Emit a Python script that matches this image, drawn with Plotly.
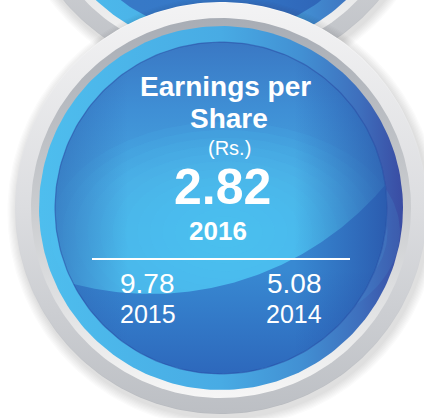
import numpy as np
import plotly.graph_objects as go

# ---------------- data ----------------
title_lines = ["Earnings per", "Share"]
unit_label = "(Rs.)"
current_value = 2.82
current_year = 2016
previous_values = [9.78, 5.08]
previous_years = [2015, 2014]

# ---------------- layout geometry (pixels, y down) ----------------
W, H = 424, 418
CX, CY = 221, 208          # main medallion centre
R_OUT, R_BAND, R_RING, R_DISK = 206, 190, 182, 166
UP_CY = -132               # upper (partially visible) medallion centre y
GLOSS_DX, GLOSS_DY, GLOSS_R = -70, -220, 306

FONT = "Liberation Sans, Arial, Helvetica, sans-serif"

fig = go.Figure()


def circle_pts(cx, cy, r, n=240):
    t = np.linspace(0, 2 * np.pi, n)
    return cx + r * np.cos(t), cy + r * np.sin(t)


def ellipse_pts(cx, cy, rx, ry, n=240):
    t = np.linspace(0, 2 * np.pi, n)
    return cx + rx * np.cos(t), cy + ry * np.sin(t)


def add_poly(x, y, color=None, grad=None):
    kw = dict(x=np.append(x, x[0]), y=np.append(y, y[0]), mode="lines",
              fill="toself", hoverinfo="skip", showlegend=False,
              line=dict(width=0, color="rgba(0,0,0,0)"))
    if color is not None:
        kw["fillcolor"] = color
    if grad is not None:
        kw["fillgradient"] = grad
    fig.add_trace(go.Scatter(**kw))


def vgrad(stops, y0, y1):
    return dict(type="vertical", colorscale=stops, start=y0, stop=y1)


def hgrad(stops, x0, x1):
    return dict(type="horizontal", colorscale=stops, start=x0, stop=x1)


def circle_intersections(c0, r0, c1, r1):
    c0 = np.array(c0, float); c1 = np.array(c1, float)
    d = np.linalg.norm(c1 - c0)
    a = (r0 ** 2 - r1 ** 2 + d ** 2) / (2 * d)
    h = np.sqrt(max(r0 ** 2 - a ** 2, 0))
    p = c0 + a * (c1 - c0) / d
    perp = np.array([-(c1 - c0)[1], (c1 - c0)[0]]) / d
    return p + h * perp, p - h * perp


def arc(center, r, pA, pB, test, n=160):
    center = np.array(center, float)
    aA = np.arctan2(pA[1] - center[1], pA[0] - center[0])
    aB = np.arctan2(pB[1] - center[1], pB[0] - center[0])
    d = (aB - aA) % (2 * np.pi)
    mid = aA + d / 2
    if not test(center + r * np.array([np.cos(mid), np.sin(mid)])):
        d = d - 2 * np.pi
    t = np.linspace(aA, aA + d, n)
    return center[0] + r * np.cos(t), center[1] + r * np.sin(t)


def shadow(cx, cy, r):
    for k in range(1, 9):
        x, y = circle_pts(cx + 2, cy + 4, r + k * 1.2)
        add_poly(x, y, color="rgba(60,60,70,0.02)")


def medallion_frame(cx, cy):
    # outer metallic band
    x, y = circle_pts(cx, cy, R_OUT)
    add_poly(x, y, grad=vgrad([[0, "#fafafa"], [0.5, "#dcdde0"], [1, "#b7babf"]],
                             cy - R_OUT, cy + R_OUT))
    x, y = circle_pts(cx, cy, R_OUT - 0.8)
    add_poly(x, y, grad=vgrad([[0, "#f3f3f4"], [0.5, "#dcdde0"], [1, "#bcbfc4"]],
                             cy - R_OUT, cy + R_OUT))
    # inner bevel band
    x, y = circle_pts(cx, cy, R_BAND)
    add_poly(x, y, grad=vgrad([[0, "#a8adb5"], [0.5, "#cacccf"], [1, "#f6f6f6"]],
                             cy - R_BAND, cy + R_BAND))
    # light-blue ring
    x, y = circle_pts(cx, cy, R_RING)
    add_poly(x, y, grad=hgrad([[0, "#4ebeee"], [0.5, "#48abe4"], [0.72, "#4290d3"],
                               [0.88, "#3e6fbd"], [1, "#3a4ca3"]],
                              cx - R_RING, cx + R_RING))


# ---------- upper medallion (mostly hidden) ----------
shadow(CX, UP_CY, R_OUT)
medallion_frame(CX, UP_CY)
x, y = circle_pts(CX, UP_CY, R_DISK)
add_poly(x, y, grad=hgrad([[0, "#3a7ac6"], [0.5, "#3478c8"], [1, "#2c5aae"]],
                          CX - R_DISK, CX + R_DISK))

# ---------- main medallion ----------
shadow(CX, CY, R_OUT)
medallion_frame(CX, CY)

# disk base
x, y = circle_pts(CX, CY, R_DISK)
add_poly(x, y, grad=vgrad([[0, "#3a78c4"], [0.3, "#3f8fd5"], [0.65, "#46a5e0"], [1, "#4aafe6"]],
                          CY - R_DISK, CY + 60))

# bright glow inside gloss
for k in range(14):
    f = 1 - k / 14
    x, y = ellipse_pts(CX + 4, CY + 24, 175 * f, 110 * f)
    add_poly(x, y, color="rgba(86,198,242,0.11)")

# lower (non-gloss) region
C = np.array([CX, CY], float)
G = C + np.array([GLOSS_DX, GLOSS_DY])
P1, P2 = circle_intersections(C, R_DISK, G, GLOSS_R)
outside_gloss = lambda p: np.linalg.norm(p - G) > GLOSS_R
inside_disk = lambda p: np.linalg.norm(p - C) < R_DISK
ax1, ay1 = arc(C, R_DISK, P1, P2, outside_gloss)
ax2, ay2 = arc(G, GLOSS_R, P2, P1, inside_disk)
add_poly(np.concatenate([ax1, ax2]), np.concatenate([ay1, ay2]),
         grad=vgrad([[0, "#3889d2"], [1, "#2d68bc"]], CY + 62, CY + R_DISK))

# left / right edge darkening
x, y = circle_pts(CX, CY, R_DISK)
add_poly(x, y, grad=hgrad([[0, "rgba(44,92,172,0.5)"], [0.22, "rgba(44,92,172,0)"],
                           [0.72, "rgba(35,70,160,0)"], [1, "rgba(35,62,152,0.6)"]],
                          CX - R_DISK, CX + R_DISK))

# thin rim line
x, y = circle_pts(CX, CY, R_DISK)
fig.add_trace(go.Scatter(x=x, y=y, mode="lines", hoverinfo="skip", showlegend=False,
                         line=dict(width=1.2, color="rgba(40,70,160,0.5)")))

# ---------- text ----------
def txt(s, x, y, size, bold=False):
    fig.add_annotation(x=x, y=y, text=f"<b>{s}</b>" if bold else s, showarrow=False,
                       xanchor="center", yanchor="middle", align="center",
                       font=dict(family=FONT, size=size, color="white"))

txt(title_lines[0], 225.5, 86.2, 28, bold=True)
txt(title_lines[1], 228.5, 118.0, 28, bold=True)
txt(unit_label, 229, 147.5, 20)
txt(f"{current_value:.2f}", 222, 186.5, 50, bold=True)
txt(str(current_year), 218, 231, 26, bold=True)

prev_x = [147.5, 294]
for xv, v, yr in zip(prev_x, previous_values, previous_years):
    txt(f"{v:.2f}", xv, 283, 28)
    txt(str(yr), xv, 314, 25)

fig.add_shape(type="line", x0=92, x1=350, y0=259, y1=259, xref="x", yref="y",
              line=dict(color="white", width=2))

fig.update_layout(
    width=W, height=H, margin=dict(l=0, r=0, t=0, b=0),
    paper_bgcolor="white", plot_bgcolor="white", showlegend=False,
    xaxis=dict(range=[0, W], visible=False, fixedrange=True),
    yaxis=dict(range=[H, 0], visible=False, fixedrange=True),
)
fig.write_html("out.html", config={"displayModeBar": False},
               post_script="document.body.style.margin='0';document.body.style.overflow='hidden';")
